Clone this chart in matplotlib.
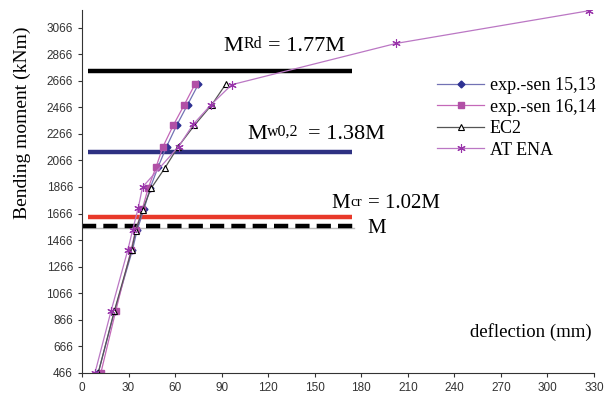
import numpy as np
import matplotlib
matplotlib.use('Agg')
import matplotlib.pyplot as plt

plt.rcParams['font.family'] = ['Liberation Serif', 'DejaVu Serif']

# load steps (kNm) and deflections (mm)
m_sen1513 = [466, 930, 1390, 1540, 1700, 1860, 2015, 2170, 2330, 2485, 2640]
d_sen1513 = [10.5, 21.0, 32.5, 35.5, 40.0, 44.0, 49.0, 54.5, 61.0, 68.0, 75.0]

m_sen1614 = [466, 930, 1390, 1540, 1700, 1860, 2015, 2170, 2330, 2485, 2640]
d_sen1614 = [12.2, 21.7, 31.6, 34.6, 38.9, 42.7, 47.7, 52.2, 58.8, 65.9, 72.8]

m_ec2 = [466, 930, 1390, 1535, 1695, 1855, 2010, 2170, 2330, 2485, 2640]
d_ec2 = [10.5, 20.8, 32.0, 34.6, 39.1, 44.5, 53.5, 62.0, 72.4, 83.6, 92.6]

m_atena = [466, 930, 1390, 1545, 1710, 1865, 2170, 2340, 2485, 2637, 2948, 3195]
d_atena = [8.4, 18.7, 29.5, 32.7, 36.3, 39.0, 62.2, 71.8, 83.1, 96.5, 202.4, 327.0]

# reference levels
m_rd = 2742
m_w02 = 2133
m_cr = 1639
m_0 = 1572

fig = plt.figure(figsize=(6.11, 4.01), dpi=100)
ax = fig.add_axes([82/611, 28.3/401, 512/611, 362.7/401])

# horizontal reference lines
ax.plot([4, 174], [m_rd, m_rd], color='black', lw=3.2, solid_capstyle='butt')
ax.plot([4, 174], [m_w02, m_w02], color='#2E3182', lw=3.2, solid_capstyle='butt')
ax.plot([4, 174], [m_cr, m_cr], color='#E8392A', lw=3.2, solid_capstyle='butt')
ax.plot([0, 175], [m_0 - 12, m_0 - 12], color='#BBBBBB', lw=1)
ax.plot([0, 175], [m_0, m_0], color='black', lw=3.2, dashes=(3.2, 1.6))

ax.plot(d_sen1513, m_sen1513, color='#7272B4', lw=0.9, marker='D', ms=3.5,
        mfc='#2E3192', mec='#2E3192', label='exp.-sen 15,13')
ax.plot(d_sen1614, m_sen1614, color='#C468B8', lw=0.9, marker='s', ms=5,
        mfc='#B150A6', mec='#B150A6', label='exp.-sen 16,14')
ax.plot(d_ec2, m_ec2, color='#555555', lw=0.9, marker='^', ms=5,
        mfc='white', mec='black', mew=0.8, label='EC2')
ax.plot(d_atena, m_atena, color='#BB77C4', lw=0.9, marker=(6, 2, 0), ms=6,
        mec='#9933AA', mew=0.8, label='AT ENA')


def moment_label(x, y, sub, rest, size, sub_w):
    # big M, smaller raised index, then the rest of the text
    ax.text(x, y, 'M', fontsize=size)
    ax.annotate(sub, xy=(x, y), xytext=(size * 0.9, size * 0.12),
                textcoords='offset points', fontsize=size * 0.72)
    ax.annotate(rest, xy=(x, y), xytext=(size * 0.9 + sub_w, 0),
                textcoords='offset points', fontsize=size)


moment_label(91, 2890, 'Rd', '= 1.77M', 16, 18)
moment_label(106.5, 2231, 'w0,2', '= 1.38M', 16, 29)
moment_label(161, 1705, 'cr', '= 1.02M', 15, 12.5)
ax.text(184, 1517, 'M', fontsize=15)
ax.text(328.5, 734, 'deflection (mm)', fontsize=13.5, ha='right')

ax.set_xlim(0, 330)
ax.set_ylim(466, 3200)
ax.set_xticks(np.arange(0, 331, 30))
ax.set_yticks(np.arange(466, 3067, 200))
ax.tick_params(direction='out', length=3, width=0.8, colors='#333333',
               labelsize=8.5, labelfontfamily='Liberation Sans')
ax.set_ylabel('Bending moment (kNm)', fontsize=14)
ax.yaxis.set_label_coords(-0.1, 0.69)
ax.spines['top'].set_visible(False)
ax.spines['right'].set_visible(False)
ax.spines['left'].set_color('#333333')
ax.spines['bottom'].set_color('#333333')

ax.legend(loc='upper left', bbox_to_anchor=(430/611, 1 - 70/401),
          bbox_transform=fig.transFigure, frameon=False, fontsize=13,
          handlelength=2.6, handletextpad=0.3, labelspacing=0.25,
          borderaxespad=0)

plt.savefig('out.png', dpi=100)
